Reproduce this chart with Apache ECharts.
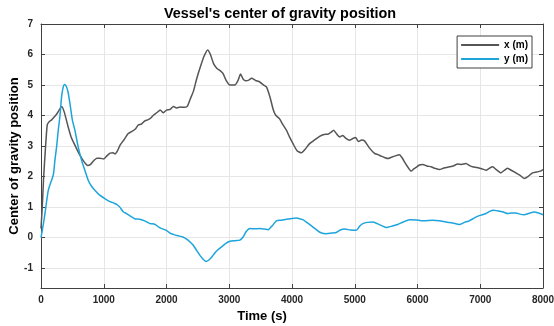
<!DOCTYPE html>
<html>
<head>
<meta charset="utf-8">
<style>
  html, body { margin: 0; padding: 0; background: #fff; }
  #chart { width: 554px; height: 326px; }
</style>
<script src="https://cdn.jsdelivr.net/npm/echarts@6/dist/echarts.min.js"></script>
</head>
<body>
<div id="chart"></div>
<script>
// Vessel centre of gravity, x and y position over time
const xTime = [0,20,40,70,100,130,170,210,250,290,330,370,430,480,540,600,650,700,745,790,840,890,940,1000,1050,1100,1150,1180,1220,1260,1320,1390,1440,1500,1550,1600,1650,1700,1750,1790,1850,1900,1950,2000,2060,2110,2160,2220,2280,2330,2380,2430,2480,2540,2600,2655,2700,2750,2800,2850,2900,2950,3010,3090,3140,3180,3220,3264,3310,3355,3420,3486,3550,3593,3650,3700,3741,3800,3850,3911,3960,4016,4080,4149,4210,4281,4360,4440,4510,4573,4620,4663,4710,4758,4810,4860,4917,4970,5013,5060,5110,5156,5230,5315,5370,5421,5480,5526,5580,5633,5712,5760,5792,5850,5898,5940,5978,6030,6083,6150,6216,6280,6348,6420,6507,6570,6640,6700,6773,6830,6878,6950,7020,7090,7150,7196,7260,7329,7380,7434,7500,7568,7630,7700,7760,7832,7900,7960,8000];
const xValue = [0.3,1.0,1.9,2.9,3.7,3.8,3.86,3.95,4.05,4.18,4.3,4.12,3.65,3.3,3.03,2.78,2.6,2.45,2.36,2.4,2.52,2.6,2.6,2.58,2.68,2.77,2.78,2.74,2.85,3.03,3.2,3.41,3.47,3.55,3.69,3.72,3.82,3.86,3.92,4.01,4.1,4.18,4.09,4.18,4.2,4.3,4.25,4.28,4.27,4.3,4.55,4.8,5.2,5.6,5.95,6.15,6.0,5.7,5.55,5.48,5.38,5.15,5.0,5.0,5.15,5.36,5.2,5.14,5.16,5.22,5.15,5.1,5.0,4.94,4.6,4.2,4.01,3.9,3.72,3.52,3.3,3.08,2.85,2.78,2.9,3.08,3.2,3.32,3.38,3.39,3.45,3.52,3.4,3.3,3.35,3.25,3.19,3.25,3.28,3.15,3.2,3.17,2.95,2.76,2.72,2.67,2.62,2.59,2.63,2.67,2.72,2.6,2.48,2.3,2.18,2.25,2.3,2.38,2.4,2.35,2.32,2.27,2.23,2.28,2.32,2.35,2.41,2.4,2.43,2.36,2.32,2.3,2.26,2.21,2.28,2.32,2.22,2.12,2.2,2.27,2.2,2.12,2.05,1.94,2.0,2.12,2.15,2.18,2.23];

const yTime = [0,30,64,90,116,145,169,200,222,250,275,300,328,350,375,400,430,461,500,540,590,646,700,752,800,858,930,1017,1100,1176,1220,1256,1310,1361,1430,1494,1570,1653,1738,1812,1897,1997,2056,2120,2188,2260,2321,2380,2427,2480,2533,2580,2628,2670,2719,2770,2824,2880,2940,3010,3100,3169,3221,3270,3328,3400,3486,3560,3619,3690,3752,3830,3911,3980,4070,4122,4180,4229,4300,4388,4460,4547,4630,4706,4770,4838,4930,5024,5080,5129,5200,5288,5400,5501,5600,5685,5780,5871,5980,6083,6160,6242,6350,6455,6560,6666,6750,6825,6900,6984,7090,7150,7207,7270,7329,7380,7434,7500,7568,7630,7700,7780,7859,7940,8000];
const yValue = [0.0,0.35,0.8,1.2,1.55,1.75,1.88,2.1,2.54,3.0,3.52,3.95,4.61,4.9,5.02,4.97,4.78,4.4,3.85,3.52,3.0,2.54,2.2,1.88,1.7,1.55,1.4,1.28,1.18,1.12,1.07,1.0,0.85,0.79,0.7,0.62,0.6,0.55,0.46,0.44,0.32,0.24,0.15,0.1,0.06,0.02,-0.05,-0.15,-0.25,-0.42,-0.58,-0.7,-0.78,-0.74,-0.64,-0.5,-0.39,-0.3,-0.2,-0.12,-0.1,-0.08,0.02,0.2,0.3,0.29,0.3,0.28,0.26,0.4,0.55,0.57,0.6,0.62,0.64,0.62,0.58,0.51,0.4,0.26,0.16,0.13,0.15,0.17,0.25,0.28,0.25,0.24,0.38,0.46,0.5,0.51,0.42,0.33,0.38,0.43,0.52,0.59,0.58,0.55,0.56,0.57,0.55,0.51,0.48,0.43,0.5,0.55,0.64,0.72,0.79,0.86,0.9,0.88,0.86,0.83,0.79,0.81,0.81,0.77,0.75,0.8,0.84,0.8,0.75];

const seriesNames = ['x (m)', 'y (m)'];
const xTicks = { min: 0, max: 8000, step: 1000 };
const yRange = { min: -1.65, max: 7 };

const FONT = '"Liberation Sans", Arial, sans-serif';
const pairs = (t, v) => t.map((ti, i) => [ti, v[i]]);

const frameLine = { show: true, onZero: false, lineStyle: { color: '#404040', width: 1 } };
const innerTick = { show: true, inside: true, length: 4, lineStyle: { color: '#404040' } };
const gridLine = { show: true, lineStyle: { color: '#e6e6e6', width: 1 } };
const tickLabel = { color: '#262626', fontFamily: FONT, fontWeight: 'bold', fontSize: 10 };

const chart = echarts.init(document.getElementById('chart'), null, { renderer: 'canvas' });
chart.setOption({
  backgroundColor: '#ffffff',
  animation: false,
  title: {
    text: "Vessel's center of gravity position",
    left: 275, top: 2, textAlign: 'center',
    textStyle: { fontFamily: FONT, fontWeight: 'bold', fontSize: 14.4, color: '#000' }
  },
  legend: {
    right: 22, top: 36, orient: 'vertical',
    data: seriesNames,
    icon: 'rect', itemWidth: 38, itemHeight: 2, itemGap: 2,
    padding: [3, 4, 3, 4],
    borderColor: '#404040', borderWidth: 1, backgroundColor: '#fff',
    textStyle: { fontFamily: FONT, fontWeight: 'bold', fontSize: 10, color: '#000', lineHeight: 12 }
  },
  grid: { left: 41, right: 11, top: 24, bottom: 38, containLabel: false, outerBoundsMode: 'none' },
  xAxis: [{
    type: 'value', min: xTicks.min, max: xTicks.max, interval: xTicks.step,
    name: 'Time (s)', nameLocation: 'middle', nameGap: 22,
    nameTextStyle: { fontFamily: FONT, fontWeight: 'bold', fontSize: 13, color: '#000', padding: [0, 60, 0, 0] },
    axisLine: frameLine, axisTick: innerTick,
    splitLine: gridLine,
    axisLabel: Object.assign({ margin: 7, formatter: v => String(v) }, tickLabel)
  }, {
    type: 'value', position: 'top', min: xTicks.min, max: xTicks.max, interval: xTicks.step,
    axisLine: frameLine, axisTick: innerTick,
    splitLine: { show: false }, axisLabel: { show: false }
  }],
  yAxis: [{
    type: 'value', min: yRange.min, max: yRange.max, splitNumber: 9,
    name: 'Center of gravity position', nameLocation: 'middle', nameGap: 20, nameMoveOverlap: false,
    nameTextStyle: { fontFamily: FONT, fontWeight: 'bold', fontSize: 13, color: '#000' },
    axisLine: frameLine, axisTick: innerTick,
    splitLine: gridLine,
    axisLabel: Object.assign({
      margin: 8,
      formatter: v => (Math.abs(v - Math.round(v)) < 1e-6 ? String(Math.round(v)) : '')
    }, tickLabel)
  }, {
    type: 'value', position: 'right', min: yRange.min, max: yRange.max, splitNumber: 9,
    axisLine: frameLine, axisTick: innerTick,
    splitLine: { show: false }, axisLabel: { show: false }
  }],
  series: [{
    name: seriesNames[0], type: 'line', xAxisIndex: 0, yAxisIndex: 0,
    data: pairs(xTime, xValue), showSymbol: false, smooth: 0.2,
    lineStyle: { color: '#555555', width: 1.5 }, itemStyle: { color: '#555555' }
  }, {
    name: seriesNames[1], type: 'line', xAxisIndex: 0, yAxisIndex: 0,
    data: pairs(yTime, yValue), showSymbol: false, smooth: 0.2,
    lineStyle: { color: '#1ea4dc', width: 1.5 }, itemStyle: { color: '#1ea4dc' }
  }]
});
</script>
</body>
</html>
